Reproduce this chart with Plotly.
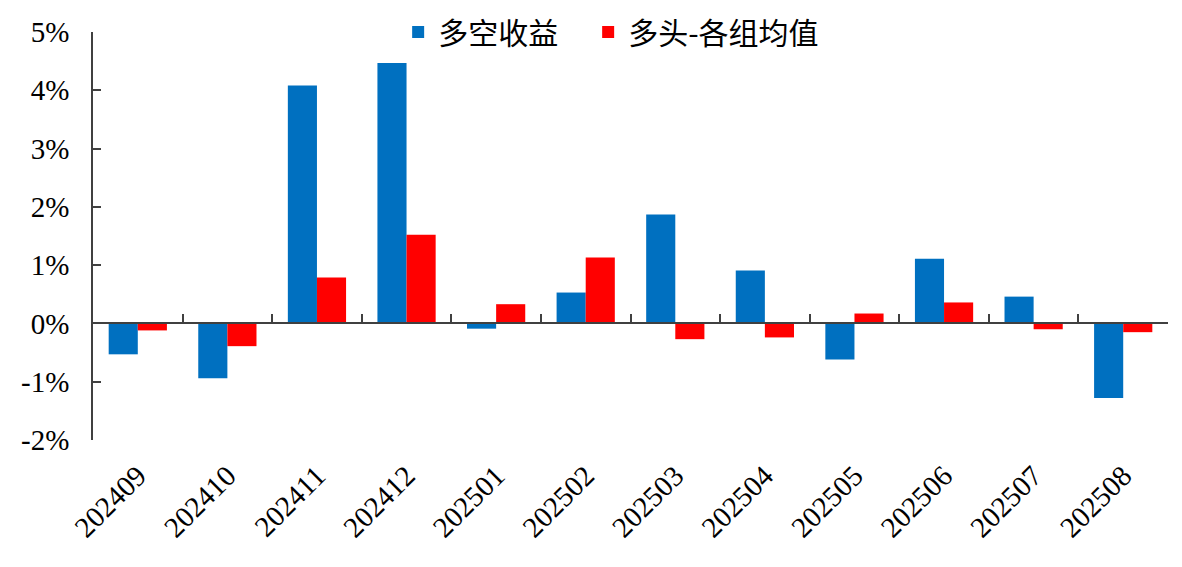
import plotly.graph_objects as go

categories = ["202409", "202410", "202411", "202412", "202501", "202502",
              "202503", "202504", "202505", "202506", "202507", "202508"]
long_short = [-0.53, -0.94, 4.08, 4.47, -0.09, 0.53, 1.87, 0.91, -0.62, 1.11, 0.46, -1.28]
long_avg = [-0.12, -0.39, 0.79, 1.52, 0.33, 1.13, -0.27, -0.24, 0.17, 0.36, -0.10, -0.15]
series_names = ["多空收益", "多头-各组均值"]
y_ticks = [-2, -1, 0, 1, 2, 3, 4, 5]
y_tick_text = [f"{v}%" for v in y_ticks]

fig = go.Figure()
fig.add_trace(go.Bar(x=categories, y=long_short, name=series_names[0], legendwidth=145,
                     marker=dict(color="#0070C0", line=dict(width=0))))
fig.add_trace(go.Bar(x=categories, y=long_avg, name=series_names[1],
                     marker=dict(color="#FF0000", line=dict(width=0))))
# helper trace on the label axis
fig.add_trace(go.Scatter(x=categories, y=[None] * len(categories), xaxis="x2",
                         showlegend=False, hoverinfo="skip", mode="lines"))

serif = "Liberation Serif, Times New Roman, serif"
fig.update_layout(
    width=1182, height=567,
    margin=dict(l=85, r=22, t=24, b=135, autoexpand=False),
    paper_bgcolor="white", plot_bgcolor="white",
    barmode="group", bargap=0.35, bargroupgap=0,
    font=dict(family=serif, size=29, color="black"),
    legend=dict(orientation="h", x=0.482, xanchor="center", y=1.0, yanchor="middle",
                font=dict(family="Noto Sans CJK SC", size=30, color="black"),
                itemwidth=30, bgcolor="rgba(0,0,0,0)"),
    showlegend=True,
    # zero-line axis with boundary ticks
    xaxis=dict(type="category", categoryorder="array", categoryarray=categories,
               anchor="free", position=2/7, side="bottom",
               showline=True, linecolor="#404040", linewidth=1.5,
               ticks="inside", tickson="boundaries", ticklen=9, tickwidth=1.5,
               tickcolor="#404040", showticklabels=False, showgrid=False, zeroline=False),
    # label axis at the bottom
    xaxis2=dict(type="category", categoryorder="array", categoryarray=categories,
                overlaying="x", matches="x", anchor="y", side="bottom",
                showline=False, ticks="", showgrid=False, zeroline=False,
                ticklabelstandoff=12,
                tickangle=-45, tickfont=dict(family=serif, size=29, color="black")),
    yaxis=dict(range=[-2, 5], tickvals=y_ticks, ticktext=y_tick_text,
               showline=True, linecolor="#404040", linewidth=1.5,
               ticks="inside", ticklen=8, tickwidth=1.5, tickcolor="#404040",
               showgrid=False, zeroline=False, ticklabelstandoff=16,
               tickfont=dict(family=serif, size=29, color="black")),
)

fig.write_html("out.html")
